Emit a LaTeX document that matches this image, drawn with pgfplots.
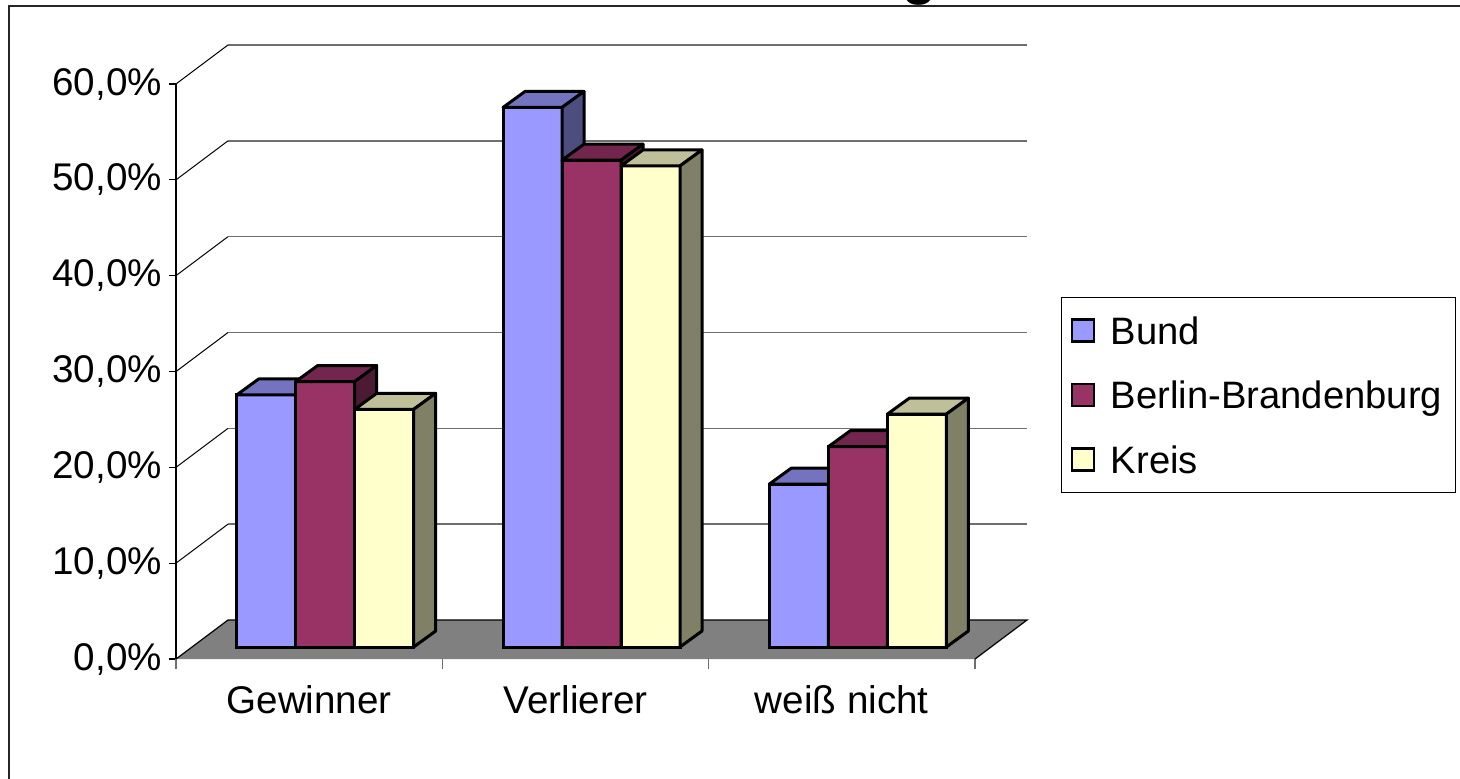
\documentclass[border=0pt]{standalone}
\usepackage{fontspec}
\setmainfont{Liberation Sans}
\usepackage{pgfplots}
\usepackage{pgfplotstable}
\pgfplotsset{compat=1.18}

\definecolor{bundF}{HTML}{9999FF}
\definecolor{bundT}{HTML}{7373BF}
\definecolor{bundS}{HTML}{4D4D80}
\definecolor{bbF}{HTML}{993366}
\definecolor{bbT}{HTML}{73264D}
\definecolor{bbS}{HTML}{4D1A33}
\definecolor{krF}{HTML}{FFFFCC}
\definecolor{krT}{HTML}{BFBF99}
\definecolor{krS}{HTML}{808066}
\definecolor{floorgray}{HTML}{808080}
\definecolor{gridgray}{HTML}{6E6E6E}

\pgfplotstableread{
x   Bund BB   Kreis
0.5 26.3 27.7 24.8
1.5 56.3 50.8 50.2
2.5 17.0 20.9 24.3
}\datatable

\newcommand\cf{\fontsize{19.3}{23}\selectfont}
\newcommand\lf{\fontsize{19.1}{23}\selectfont}

\pgfplotsset{
  box3d/.style n args={3}{%
    only marks, forget plot, scatter,
    mark=*, mark size=0.01pt, mark options={draw=none, fill=none},
    visualization depends on={rawy \as \rawyval},
    scatter/@pre marker code/.code={%
      \pgfmathsetmacro\barHH{\rawyval*4.79167}%
      \filldraw[fill=#3, draw=black, line width=1.5pt, line join=round]
        (-14.75pt,-\barHH pt) rectangle (14.75pt,0pt);
      \filldraw[fill=#1, draw=black, line width=1.5pt, line join=round]
        (-14.75pt,0pt) -- (14.75pt,0pt) -- (25.75pt,8pt) -- (-3.75pt,8pt) -- cycle;
      \filldraw[fill=#2, draw=black, line width=1.5pt, line join=round]
        (14.75pt,0pt) -- (25.75pt,8pt) -- (25.75pt,8pt-\barHH pt) -- (14.75pt,-\barHH pt) -- cycle;
    },
    scatter/@post marker code/.code={},
  },
  frontbar/.style={ybar, bar width=29.5pt, fill=#1, draw=black, line width=1.5pt},
}

\begin{document}
\begin{tikzpicture}
\useasboundingbox (-88pt,-59.5pt) rectangle (642pt,329.5pt);
\clip (-88pt,-59.5pt) rectangle (642pt,329.5pt);
\draw[line width=1.3pt, black!85] (-83.5pt,-100pt) rectangle (700pt,326.5pt);
\node[font=\fontsize{28}{30}\selectfont\bfseries, anchor=base, inner sep=0pt] at (372pt,332.5pt) {g};

\begin{axis}[
  at={(0pt,0pt)}, anchor=south west,
  x=133.1667pt, y=4.79167pt,
  xmin=0, xmax=3, ymin=0, ymax=60,
  enlargelimits=false, clip=false,
  axis x line=bottom, axis y line=left,
  axis line style={-},
  x axis line style={draw=none},
  y axis line style={black, line width=0.6pt},
  tick align=outside,
  major tick length=3.5pt,
  ytick={0,10,20,30,40,50,60},
  yticklabels={{0,0\%},{10,0\%},{20,0\%},{30,0\%},{40,0\%},{50,0\%},{60,0\%}},
  y tick style={black, line width=0.6pt},
  xtick={0.5,1.5,2.5},
  xticklabels={Gewinner,Verlierer,weiß nicht},
  x tick style={draw=none},
  xticklabel style={yshift=-6pt},
  extra x ticks={0,1,2,3},
  extra x tick labels={},
  extra x tick style={major tick length=5pt, x tick style={draw=gridgray, line width=0.6pt}},
  tick label style={font=\cf},
]
\fill[floorgray] (axis cs:0,0) -- (axis cs:3,0) -- ([shift={(26pt,19.5pt)}]axis cs:3,0) -- ([shift={(26pt,19.5pt)}]axis cs:0,0) -- cycle;
\draw[black, line width=0.6pt] (axis cs:0,0) -- ([shift={(26pt,19.5pt)}]axis cs:0,0) -- ([shift={(26pt,19.5pt)}]axis cs:3,0) -- (axis cs:3,0);
\pgfplotsinvokeforeach{10,20,30,40,50,60}{
  \draw[gridgray, line width=0.75pt] ([shift={(26pt,19.5pt)}]axis cs:0,#1) -- ([shift={(26pt,19.5pt)}]axis cs:3,#1);
  \draw[black, line width=0.5pt] (axis cs:0,#1) -- ([shift={(26pt,19.5pt)}]axis cs:0,#1);
}
\end{axis}

\begin{axis}[
  at={(8pt,6pt)}, anchor=south west,
  x=133.1667pt, y=4.79167pt,
  xmin=0, xmax=3, ymin=0, ymax=60,
  enlargelimits=false, clip=false, hide axis,
  legend style={at={(1.0876,0.6087)}, anchor=north west, draw=black, line width=0.5pt,
    font=\lf, inner xsep=4.5pt, inner ysep=7.5pt, row sep=14.25pt,
    nodes={inner sep=2pt, text height=14pt, text depth=0pt},
    /tikz/every odd column/.append style={column sep=6pt}},
  legend cell align=left,
  legend image code/.code={\draw[#1, line width=1.2pt] (0pt,-5.5pt) rectangle (11pt,5.5pt);},
]
\addplot[frontbar=bundF, bar shift=-29.5pt] table[x=x, y=Bund]{\datatable};
\addplot[box3d={bundT}{bundS}{bundF}] table[x expr=\thisrow{x}-0.22153, y=Bund]{\datatable};
\addplot[frontbar=bbF, bar shift=0pt] table[x=x, y=BB]{\datatable};
\addplot[box3d={bbT}{bbS}{bbF}] table[x=x, y=BB]{\datatable};
\addplot[frontbar=krF, bar shift=29.5pt] table[x=x, y=Kreis]{\datatable};
\addplot[box3d={krT}{krS}{krF}] table[x expr=\thisrow{x}+0.22153, y=Kreis]{\datatable};
\legend{Bund,Berlin-Brandenburg,Kreis}
\end{axis}
\end{tikzpicture}
\end{document}
